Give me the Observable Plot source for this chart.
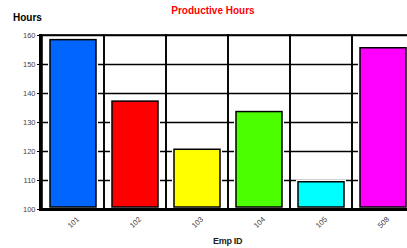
<!DOCTYPE html>
<html><head><meta charset="utf-8">
<script src="https://cdn.jsdelivr.net/npm/d3@7"></script>
<script src="https://cdn.jsdelivr.net/npm/@observablehq/plot@0.6"></script>
<style>
html,body{margin:0;padding:0;background:#fff;overflow:hidden;}
#wrap{position:relative;width:407px;height:248px;font-family:"Liberation Sans",Arial,sans-serif;}
.lbl{position:absolute;font-weight:bold;white-space:nowrap;line-height:1;}
</style></head>
<body><div id="wrap">
<div class="lbl" style="left:0;width:426px;text-align:center;top:6px;font-size:10px;color:#ff0000;">Productive Hours</div>
<div class="lbl" style="left:13px;top:13px;font-size:10px;color:#000;">Hours</div>
<div class="lbl" style="left:213px;top:237px;font-size:9px;color:#222;letter-spacing:-0.3px;">Emp ID</div>
</div>
<script>
const empIds = ["101", "102", "103", "104", "105", "508"];
const hours = [158.4, 137.2, 120.6, 133.6, 109.4, 155.6];
const colors = ["#0066ff", "#ff0000", "#ffff00", "#4cff00", "#00ffff", "#ff00ff"];
const yTicks = [100, 110, 120, 130, 140, 150, 160];

const data = empIds.map((id, i) => ({id, hours: hours[i], color: colors[i]}));

const chart = Plot.plot({
  width: 407,
  height: 248,
  marginTop: 35,
  marginBottom: 39,
  marginLeft: 40,
  marginRight: -8,
  style: {fontFamily: "Liberation Sans, Arial, sans-serif", background: "#fff", overflow: "hidden"},
  x: {domain: empIds, padding: 0, label: null, axis: null},
  y: {domain: [100, 160], label: null, ticks: yTicks, axis: null},
  marks: [
    Plot.gridY(yTicks, {stroke: "#000", strokeOpacity: 1, strokeWidth: 1.6}),
    Plot.barY(empIds, {x: d => d, y1: 100, y2: 160, fill: "none", stroke: "#000", strokeWidth: 1.6}),
    Plot.barY(data, {x: "id", y1: 100, y2: "hours", fill: "color", stroke: "#fff", strokeWidth: 4, insetLeft: 8, insetRight: 8, insetBottom: 2}),
    Plot.barY(data, {x: "id", y1: 100, y2: "hours", fill: "color", stroke: "#000", strokeWidth: 1.5, insetLeft: 8, insetRight: 8, insetBottom: 2}),
    Plot.ruleY([100], {stroke: "#000", strokeWidth: 3}),
    Plot.frame({anchor: "left", stroke: "#000", strokeWidth: 3}),
    Plot.axisY(yTicks, {tickSize: 3, tickPadding: 2, fontSize: 7.5, fill: "#444", stroke: "#000", label: null}),
    Plot.text(empIds, {x: d => d, frameAnchor: "bottom", dy: 13, rotate: -45, text: d => d, fontSize: 7.5, fill: "#444", textAnchor: "middle", lineAnchor: "middle"})
  ]
});
const wrap = document.getElementById("wrap");
wrap.insertBefore(chart, wrap.firstChild);
</script>
</body></html>
